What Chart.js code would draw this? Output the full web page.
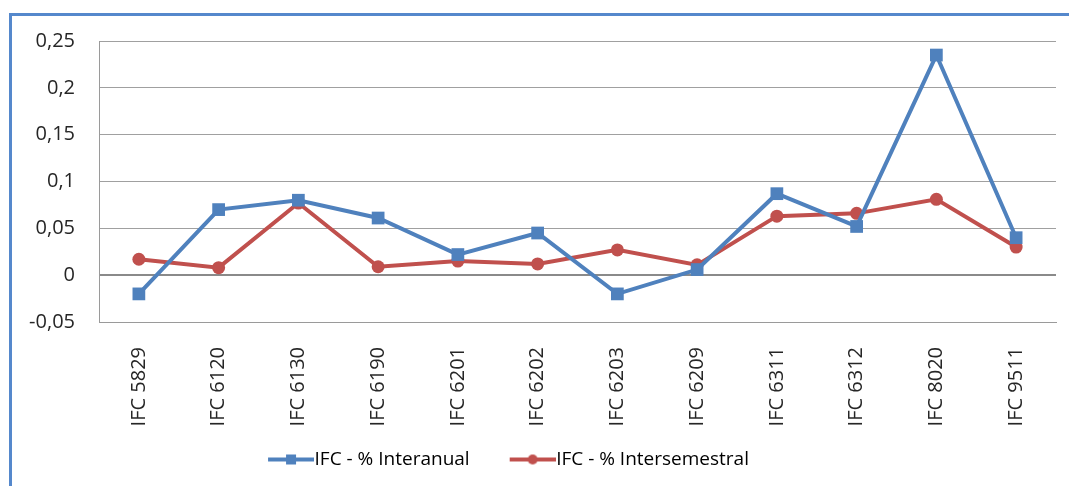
<!DOCTYPE html>
<html>
<head>
<meta charset="utf-8">
<script src="https://cdn.jsdelivr.net/npm/chart.js@4/dist/chart.umd.min.js"></script>
<style>
    html, body { margin: 0; padding: 0; background: #FFFFFF; overflow: hidden; }
    .frame {
        position: absolute; left: 9px; top: 13px; width: 1100px; height: 500px;
        border-top: 3px solid #5588CC; border-left: 3px solid #5588CC;
    }
    .wrap { position: absolute; left: 0; top: 0; width: 1069px; height: 486px; }
</style>
</head>
<body>
<div class="frame"></div>
<div class="wrap"><canvas id="ifcChart"></canvas></div>
<script>
const categories = ['IFC 5829', 'IFC 6120', 'IFC 6130', 'IFC 6190', 'IFC 6201', 'IFC 6202',
    'IFC 6203', 'IFC 6209', 'IFC 6311', 'IFC 6312', 'IFC 8020', 'IFC 9511'];
const interanual = [-0.020, 0.070, 0.080, 0.061, 0.022, 0.045, -0.020, 0.006, 0.087, 0.052, 0.235, 0.040];
const intersemestral = [0.017, 0.008, 0.077, 0.009, 0.015, 0.012, 0.027, 0.011, 0.063, 0.066, 0.081, 0.030];
const yTickValues = [-0.05, 0, 0.05, 0.1, 0.15, 0.2, 0.25];

const BLUE = '#4F81BD';
const RED = '#C0504D';
const FONT = "'Open Sans', sans-serif";

// legend swatch: blank lead-in, then line with the marker, text follows right after
const SWATCH_BOX = 67;
function legendSwatch(color, marker) {
    const c = document.createElement('canvas');
    c.width = SWATCH_BOX + 18; c.height = 14;
    const g = c.getContext('2d');
    const x1 = c.width - 46, x2 = c.width, mid = (x1 + x2) / 2;
    g.strokeStyle = color;
    g.lineWidth = 4;
    g.beginPath(); g.moveTo(x1, 7); g.lineTo(x2, 7); g.stroke();
    g.fillStyle = color;
    if (marker === 'rect') {
        g.fillRect(mid - 5, 2, 10, 10);
    } else {
        g.beginPath(); g.arc(mid, 7, 5, 0, Math.PI * 2); g.fill();
    }
    return c;
}

const fmt = v => String(Math.round(v * 100) / 100).replace('.', ',');
const isZero = v => Math.abs(v) < 1e-9;

Chart.defaults.font.family = FONT;
Chart.defaults.font.size = 20;
Chart.defaults.color = '#262626';

new Chart(document.getElementById('ifcChart'), {
    type: 'line',
    data: {
        labels: categories,
        datasets: [{
            label: 'IFC - % Interanual',
            data: interanual,
            borderColor: BLUE,
            backgroundColor: BLUE,
            borderWidth: 4,
            tension: 0,
            pointStyle: 'rect',
            pointRadius: 9,
            pointBorderWidth: 0,
            swatch: legendSwatch(BLUE, 'rect')
        }, {
            label: 'IFC - % Intersemestral',
            data: intersemestral,
            borderColor: RED,
            backgroundColor: RED,
            borderWidth: 4,
            tension: 0,
            pointStyle: 'circle',
            pointRadius: 6.5,
            pointBorderWidth: 0,
            swatch: legendSwatch(RED, 'circle')
        }]
    },
    options: {
        responsive: true,
        maintainAspectRatio: false,
        animation: false,
        // negative left padding only moves the full-width legend box left
        layout: { padding: { top: 41, right: 13, left: -69, bottom: 7 } },
        plugins: {
            tooltip: { enabled: false },
            legend: {
                position: 'bottom',
                labels: {
                    usePointStyle: true,
                    pointStyleWidth: SWATCH_BOX,
                    padding: 10,
                    color: '#262626',
                    font: { size: 19 },
                    generateLabels: chart => chart.data.datasets.map((ds, i) => ({
                        text: ds.label,
                        pointStyle: ds.swatch,
                        fillStyle: ds.borderColor,
                        strokeStyle: ds.borderColor,
                        lineWidth: 0,
                        datasetIndex: i,
                        hidden: false
                    }))
                }
            }
        },
        scales: {
            x: {
                offset: true,
                grid: { display: false, drawTicks: false },
                border: { display: true, color: '#9A9A9A', width: 1 },
                ticks: { minRotation: 90, maxRotation: 90, padding: 25, autoSkip: false },
                afterFit: s => { s.height = 118; }
            },
            y: {
                min: -0.05,
                max: 0.25,
                afterBuildTicks: s => { s.ticks = yTickValues.map(v => ({ value: v })); },
                grid: {
                    drawTicks: false,
                    color: c => isZero(c.tick.value) ? '#8A8A8A' : '#A0A0A0',
                    lineWidth: c => isZero(c.tick.value) ? 2 : 1
                },
                border: { display: true, color: '#9A9A9A', width: 1 },
                ticks: { padding: 24, callback: v => fmt(v) },
                afterFit: s => { s.width = 168; }
            }
        }
    }
});
</script>
</body>
</html>
